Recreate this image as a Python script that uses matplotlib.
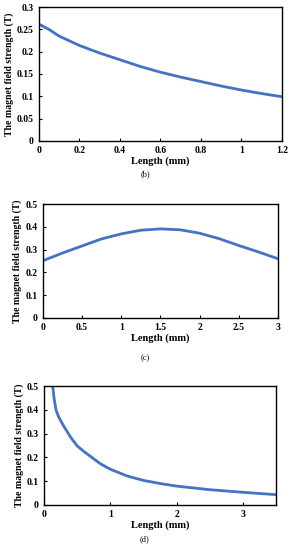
import matplotlib
matplotlib.use("Agg")
import matplotlib.pyplot as plt

plt.rcParams['font.family'] = ['Liberation Serif', 'DejaVu Serif']
plt.rcParams['font.weight'] = 'bold'

# Panel (b)
b_x = [0.0, 0.05, 0.1, 0.2, 0.3, 0.4, 0.5, 0.6, 0.7, 0.8, 0.9, 1.0, 1.1, 1.2]
b_y = [0.262, 0.25, 0.235, 0.214, 0.197, 0.182, 0.167, 0.154, 0.143, 0.133, 0.123, 0.114, 0.106, 0.099]

# Panel (c)
c_x = [0.0, 0.25, 0.5, 0.75, 1.0, 1.25, 1.5, 1.75, 2.0, 2.25, 2.5, 2.75, 3.0]
c_y = [0.251, 0.285, 0.316, 0.347, 0.369, 0.385, 0.391, 0.387, 0.372, 0.348, 0.318, 0.29, 0.26]

# Panel (d)
d_x = [0.13, 0.15, 0.18, 0.22, 0.3, 0.4, 0.5, 0.6, 0.72, 0.85, 1.0, 1.25, 1.5, 1.75, 2.0, 2.5, 3.0, 3.5]
d_y = [0.5, 0.45, 0.40, 0.37, 0.33, 0.285, 0.248, 0.225, 0.2, 0.173, 0.15, 0.122, 0.103, 0.09, 0.079, 0.064, 0.053, 0.043]

panels = [
    dict(x=b_x, y=b_y, xlim=(0, 1.2), ylim=(0, 0.3),
         xticks=[0, 0.2, 0.4, 0.6, 0.8, 1, 1.2], xtl=['0', '0.2', '0.4', '0.6', '0.8', '1', '1.2'],
         yticks=[0, 0.05, 0.1, 0.15, 0.2, 0.25, 0.3], ytl=['0', '0.05', '0.1', '0.15', '0.2', '0.25', '0.3'],
         pos=[0.134, 0.744, 0.838, 0.243], tag='(b)', tagy=0.676),
    dict(x=c_x, y=c_y, xlim=(0, 3), ylim=(0, 0.5),
         xticks=[0, 0.5, 1, 1.5, 2, 2.5, 3], xtl=['0', '0.5', '1', '1.5', '2', '2.5', '3'],
         yticks=[0, 0.1, 0.2, 0.3, 0.4, 0.5], ytl=['0', '0.1', '0.2', '0.3', '0.4', '0.5'],
         pos=[0.148, 0.422, 0.810, 0.207], tag='(c)', tagy=0.342),
    dict(x=d_x, y=d_y, xlim=(0, 3.5), ylim=(0, 0.5),
         xticks=[0, 1, 2, 3], xtl=['0', '1', '2', '3'],
         yticks=[0, 0.1, 0.2, 0.3, 0.4, 0.5], ytl=['0', '0.1', '0.2', '0.3', '0.4', '0.5'],
         pos=[0.152, 0.082, 0.800, 0.216], tag='(d)', tagy=0.013),
]

fig = plt.figure(figsize=(2.9, 5.5), dpi=100)
for p in panels:
    ax = fig.add_axes(p['pos'])
    ax.plot(p['x'], p['y'], color='#4472C4', linewidth=2, clip_on=True)
    ax.set_xlim(*p['xlim'])
    ax.set_ylim(*p['ylim'])
    ax.set_xticks(p['xticks'])
    ax.set_xticklabels(p['xtl'])
    ax.set_yticks(p['yticks'])
    ax.set_yticklabels(p['ytl'])
    ax.tick_params(labelsize=7, length=2, width=0.8, direction='in', pad=4)
    for s in ax.spines.values():
        s.set_linewidth(1.0)
    ax.set_xlabel('Length (mm)', fontsize=7.5, fontweight='bold', labelpad=1)
    ax.set_ylabel('The magnet field strength (T)', fontsize=7, fontweight='bold', labelpad=2)
    fig.text(0.5, p['tagy'], p['tag'], fontsize=6, ha='center', va='bottom', fontweight='normal')

fig.savefig('out.png', dpi=100)
